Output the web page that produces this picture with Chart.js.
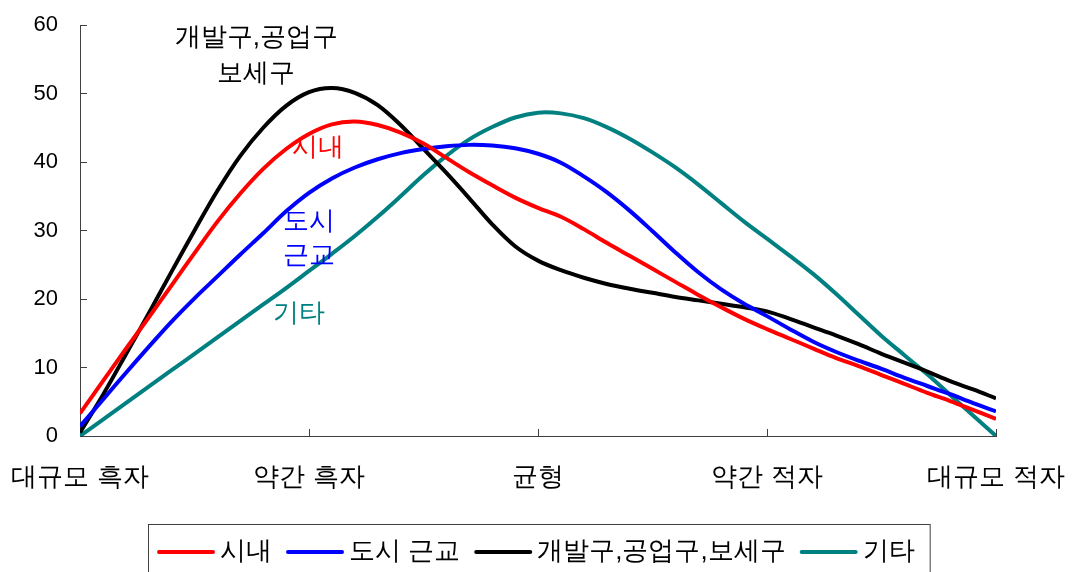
<!DOCTYPE html>
<html lang="ko">
<head>
<meta charset="utf-8">
<script src="https://cdn.jsdelivr.net/npm/chart.js@4.4.1/dist/chart.umd.min.js"></script>
<style>
  html, body { margin: 0; padding: 0; background: #ffffff; }
  canvas { display: block; }
</style>
</head>
<body>
<canvas id="chart" width="1072" height="572"></canvas>
<script>
// Categories on the horizontal axis (fiscal balance level)
const categories = ['대규모 흑자', '약간 흑자', '균형', '약간 적자', '대규모 적자'];
// Value axis tick labels
const yTicks = [0, 10, 20, 30, 40, 50, 60];
// Sample positions along the category axis (0 = first category, 4 = last)
const positions = [0, 0.1, 0.2, 0.3, 0.4, 0.5, 0.6, 0.7, 0.8, 0.9,
                   1, 1.1, 1.2, 1.3, 1.4, 1.5, 1.6, 1.7, 1.8, 1.9,
                   2, 2.1, 2.2, 2.3, 2.4, 2.5, 2.6, 2.7, 2.8, 2.9,
                   3, 3.1, 3.2, 3.3, 3.4, 3.5, 3.6, 3.7, 3.8, 3.9, 4];
// Series names
const seriesNames = ['시내', '도시 근교', '개발구,공업구,보세구', '기타'];
// Series values
const downtown = [3.3, 8.0, 12.7, 17.3, 22.0, 26.7, 31.3, 35.4, 39.0, 41.9,
                  44.1, 45.5, 45.9, 45.4, 44.3, 42.7, 40.6, 38.5, 36.6, 34.8,
                  33.3, 32.0, 30.2, 28.2, 26.3, 24.4, 22.5, 20.6, 18.8, 17.1,
                  15.6, 14.2, 12.8, 11.4, 10.2, 8.9, 7.6, 6.3, 5.1, 3.8, 2.5];
const suburbs = [1.4, 5.3, 9.2, 13.0, 16.7, 20.1, 23.3, 26.5, 29.6, 32.8,
                 35.5, 37.6, 39.2, 40.4, 41.3, 41.9, 42.3, 42.5, 42.4, 42.0,
                 41.2, 39.9, 37.9, 35.6, 32.9, 29.9, 26.8, 23.9, 21.4, 19.3,
                 17.5, 15.6, 13.8, 12.3, 11.0, 9.8, 8.5, 7.3, 6.1, 4.8, 3.6];
const industrial = [0.5, 6.0, 11.9, 17.9, 24.0, 30.0, 35.8, 40.9, 45.0, 48.2,
                    50.2, 50.8, 50.1, 48.3, 45.4, 41.9, 38.4, 34.7, 30.9, 27.7,
                    25.6, 24.2, 23.1, 22.2, 21.5, 20.9, 20.3, 19.8, 19.3, 18.8,
                    18.2, 17.1, 15.9, 14.7, 13.4, 12.0, 10.7, 9.4, 8.0, 6.8, 5.5];
const others = [0, 2.4, 4.8, 7.2, 9.6, 12.0, 14.4, 16.8, 19.2, 21.6,
                24.1, 26.6, 29.2, 32.0, 35.0, 38.1, 40.9, 43.3, 45.1, 46.5,
                47.2, 47.1, 46.4, 45.1, 43.4, 41.4, 39.2, 36.7, 34.0, 31.3,
                28.8, 26.3, 23.7, 20.8, 17.7, 14.6, 11.8, 9.0, 6.0, 3.0, 0];

const seriesValues = [downtown, suburbs, industrial, others];
const seriesColors = ['#ff0000', '#0000ff', '#000000', '#008080'];

// In-plot curve labels, anchored in data coordinates
const curveNotes = [
  { text: '개발구,공업구', color: '#000000', x: 0.77, y: 58.1 },
  { text: '보세구',       color: '#000000', x: 0.77, y: 52.9 },
  { text: '시내',         color: '#ff0000', x: 1.04, y: 42.1 },
  { text: '도시',         color: '#0000ff', x: 1.00, y: 31.3 },
  { text: '근교',         color: '#0000ff', x: 1.00, y: 26.3 },
  { text: '기타',         color: '#008080', x: 0.955, y: 17.8 }
];

const krFont = 'sans-serif';
const krSize = 26;
const axisColor = '#404040';

Chart.defaults.font.family = krFont;
Chart.defaults.color = '#000000';

const toPoints = values => values.map((v, i) => ({ x: positions[i], y: v }));

// Curve labels inside the plot
const curveNotesPlugin = {
  id: 'curveNotes',
  afterDatasetsDraw(chart) {
    const { ctx, scales } = chart;
    ctx.save();
    ctx.font = `${krSize}px ${krFont}`;
    ctx.textAlign = 'center';
    ctx.textBaseline = 'middle';
    curveNotes.forEach(n => {
      ctx.fillStyle = n.color;
      ctx.fillText(n.text, scales.x.getPixelForValue(n.x), scales.y.getPixelForValue(n.y));
    });
    ctx.restore();
  }
};

// Framed legend row below the axis labels
const framedLegendPlugin = {
  id: 'framedLegend',
  afterDraw(chart) {
    const ctx = chart.ctx;
    ctx.save();
    ctx.font = `${krSize}px ${krFont}`;
    const swatch = 58, gapText = 5, gapItem = 14;
    const items = chart.data.datasets.map(ds => ({
      label: ds.label, color: ds.borderColor, w: ctx.measureText(ds.label).width
    }));
    const total = items.reduce((s, it) => s + swatch + gapText + it.w, 0) + gapItem * (items.length - 1);
    let x = Math.round(chart.width / 2 - total / 2);
    const cy = 552;
    ctx.strokeStyle = axisColor;
    ctx.lineWidth = 1;
    ctx.strokeRect(x - 9 + 0.5, 524.5, total + 24, 80);
    ctx.textAlign = 'left';
    ctx.textBaseline = 'middle';
    items.forEach(it => {
      ctx.strokeStyle = it.color;
      ctx.lineWidth = 4;
      ctx.lineCap = 'round';
      ctx.beginPath();
      ctx.moveTo(x + 2, cy);
      ctx.lineTo(x + swatch - 2, cy);
      ctx.stroke();
      x += swatch + gapText;
      ctx.fillStyle = '#000000';
      ctx.fillText(it.label, x, cy);
      x += it.w + gapItem;
    });
    ctx.restore();
  }
};

new Chart(document.getElementById('chart'), {
  type: 'line',
  data: {
    datasets: seriesNames.map((name, i) => ({
      label: name,
      data: toPoints(seriesValues[i]),
      borderColor: seriesColors[i],
      backgroundColor: seriesColors[i],
      borderWidth: 4,
      pointRadius: 0,
      pointHoverRadius: 0,
      tension: 0.35,
      fill: false
    }))
  },
  options: {
    responsive: false,
    animation: false,
    devicePixelRatio: 1,
    layout: { padding: { left: 0, right: 76, top: 25, bottom: 0 } },
    plugins: { legend: { display: false }, tooltip: { enabled: false } },
    scales: {
      x: {
        type: 'linear',
        min: 0,
        max: 4,
        border: { display: true, color: axisColor, width: 1 },
        grid: { drawOnChartArea: false, drawTicks: true, tickLength: -7, tickColor: axisColor },
        afterBuildTicks: scale => { scale.ticks = categories.map((_, i) => ({ value: i })); },
        afterFit: scale => { scale.height = 136; scale.paddingLeft = 0; scale.paddingRight = 0; },
        ticks: {
          autoSkip: false,
          maxRotation: 0,
          padding: 33,
          color: '#000000',
          font: { family: krFont, size: krSize },
          callback: v => categories[v]
        }
      },
      y: {
        min: 0,
        max: 60,
        border: { display: true, color: axisColor, width: 1 },
        grid: { drawOnChartArea: false, drawTicks: true, tickLength: -7, tickColor: axisColor },
        afterBuildTicks: scale => { scale.ticks = yTicks.map(v => ({ value: v })); },
        afterFit: scale => { scale.width = 80; scale.paddingTop = 0; scale.paddingBottom = 0; },
        ticks: {
          padding: 29,
          color: '#000000',
          font: { family: '"Liberation Sans", Arial, sans-serif', size: 22 }
        }
      }
    }
  },
  plugins: [curveNotesPlugin, framedLegendPlugin]
});
</script>
</body>
</html>
